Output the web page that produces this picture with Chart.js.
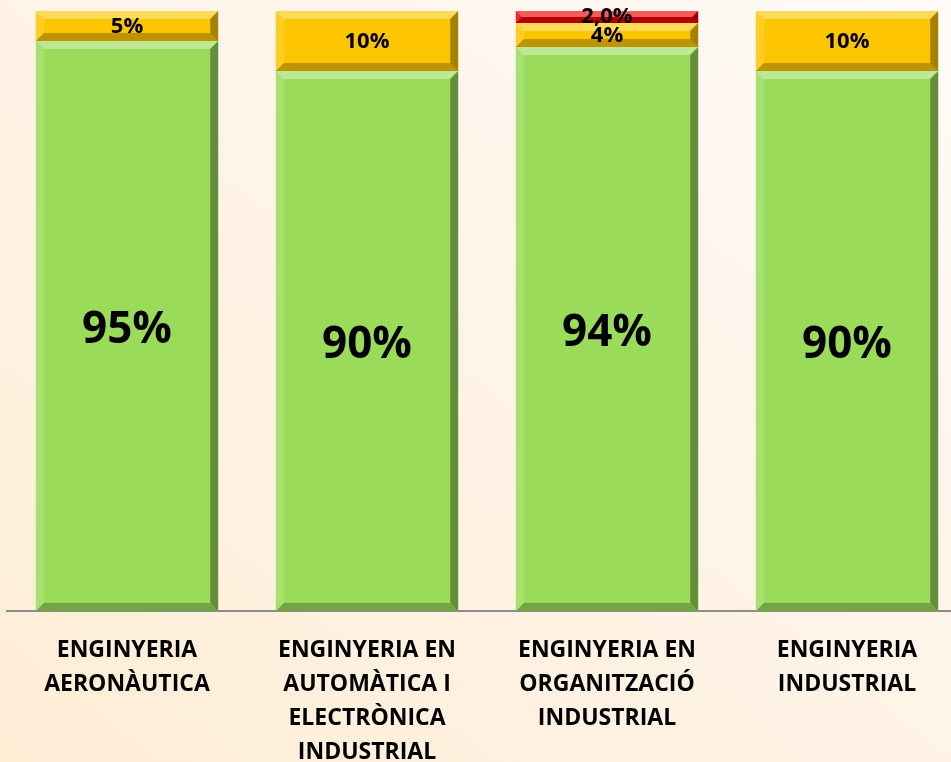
<!DOCTYPE html>
<html>
<head>
<meta charset="utf-8">
<script src="https://cdn.jsdelivr.net/npm/chart.js@4.4.1/dist/chart.umd.min.js"></script>
<style>
  html, body { margin: 0; padding: 0; overflow: hidden; }
  body { width: 951px; height: 762px; background: linear-gradient(to bottom left, #fffbf7 0%, #fef4e8 45%, #feedd5 100%); }
  #wrap { width: 967px; height: 762px; }
</style>
</head>
<body>
<div id="wrap"><canvas id="chart"></canvas></div>
<script>
const categories = [
  ['ENGINYERIA', 'AERONÀUTICA'],
  ['ENGINYERIA EN', 'AUTOMÀTICA I', 'ELECTRÒNICA', 'INDUSTRIAL'],
  ['ENGINYERIA EN', 'ORGANITZACIÓ', 'INDUSTRIAL'],
  ['ENGINYERIA', 'INDUSTRIAL']
];
const greenValues = [95, 90, 94, 90];
const yellowValues = [5, 10, 4, 10];
const redValues = [0, 0, 2, 0];

// bevel look for each bar segment
const bevelPlugin = {
  id: 'bevel',
  afterDatasetsDraw(chart) {
    const ctx = chart.ctx;
    chart.data.datasets.forEach((ds, i) => {
      const meta = chart.getDatasetMeta(i);
      meta.data.forEach((el, j) => {
        if (!ds.data[j]) return;
        const p = el.getProps(['x', 'y', 'base', 'width'], true);
        const l = p.x - p.width / 2, r = p.x + p.width / 2;
        const t = Math.min(p.y, p.base), b = Math.max(p.y, p.base);
        const bv = Math.min(8, (b - t) / 2);
        ctx.save();
        // top
        ctx.fillStyle = 'rgba(255,255,255,0.35)';
        ctx.beginPath();
        ctx.moveTo(l, t); ctx.lineTo(r, t); ctx.lineTo(r - bv, t + bv); ctx.lineTo(l + bv, t + bv);
        ctx.fill();
        // left
        ctx.fillStyle = 'rgba(255,255,255,0.15)';
        ctx.beginPath();
        ctx.moveTo(l, t); ctx.lineTo(l + bv, t + bv); ctx.lineTo(l + bv, b - bv); ctx.lineTo(l, b);
        ctx.fill();
        // right
        ctx.fillStyle = 'rgba(0,0,0,0.35)';
        ctx.beginPath();
        ctx.moveTo(r, t); ctx.lineTo(r, b); ctx.lineTo(r - bv, b - bv); ctx.lineTo(r - bv, t + bv);
        ctx.fill();
        // bottom
        ctx.fillStyle = 'rgba(0,0,0,0.25)';
        ctx.beginPath();
        ctx.moveTo(l, b); ctx.lineTo(r, b); ctx.lineTo(r - bv, b - bv); ctx.lineTo(l + bv, b - bv);
        ctx.fill();
        ctx.restore();
      });
    });
  }
};

// value labels in the middle of each segment
const labelPlugin = {
  id: 'valueLabels',
  afterDatasetsDraw(chart) {
    const ctx = chart.ctx;
    chart.data.datasets.forEach((ds, i) => {
      const meta = chart.getDatasetMeta(i);
      meta.data.forEach((el, j) => {
        const v = ds.data[j];
        if (!v) return;
        const p = el.getProps(['x', 'y', 'base'], true);
        ctx.save();
        ctx.fillStyle = '#000';
        ctx.font = 'bold ' + ds.labelSize + 'px "Open Sans", sans-serif';
        ctx.textAlign = 'center';
        ctx.textBaseline = 'middle';
        const txt = ds.decimals ? v.toFixed(ds.decimals).replace('.', ',') + '%' : v + '%';
        ctx.fillText(txt, p.x, (p.y + p.base) / 2 + ds.labelShift);
        ctx.restore();
      });
    });
  }
};

new Chart(document.getElementById('chart'), {
  type: 'bar',
  data: {
    labels: categories,
    datasets: [
      { data: greenValues, backgroundColor: '#9bdb5a', labelSize: 44, labelShift: 4, decimals: 0 },
      { data: yellowValues, backgroundColor: '#fec600', labelSize: 22, labelShift: 1, decimals: 0 },
      { data: redValues, backgroundColor: '#f00000', labelSize: 22, labelShift: 0, decimals: 1 }
    ]
  },
  options: {
    responsive: true,
    maintainAspectRatio: false,
    animation: false,
    layout: { padding: { top: 11, left: 7, right: 0, bottom: 0 } },
    datasets: { bar: { categoryPercentage: 0.76, barPercentage: 1 } },
    plugins: { legend: { display: false }, tooltip: { enabled: false } },
    scales: {
      x: {
        stacked: true,
        grid: { display: false },
        border: { display: true, color: '#8c8c8c', width: 2 },
        afterFit(scale) { scale.height = 151; },
        ticks: {
          color: '#000',
          padding: 14,
          maxRotation: 0,
          autoSkip: false,
          font: { family: '"Open Sans", sans-serif', weight: 'bold', size: 23, lineHeight: 1.48 }
        }
      },
      y: {
        stacked: true,
        display: false,
        min: 0,
        max: 100
      }
    }
  },
  plugins: [bevelPlugin, labelPlugin]
});
</script>
</body>
</html>
